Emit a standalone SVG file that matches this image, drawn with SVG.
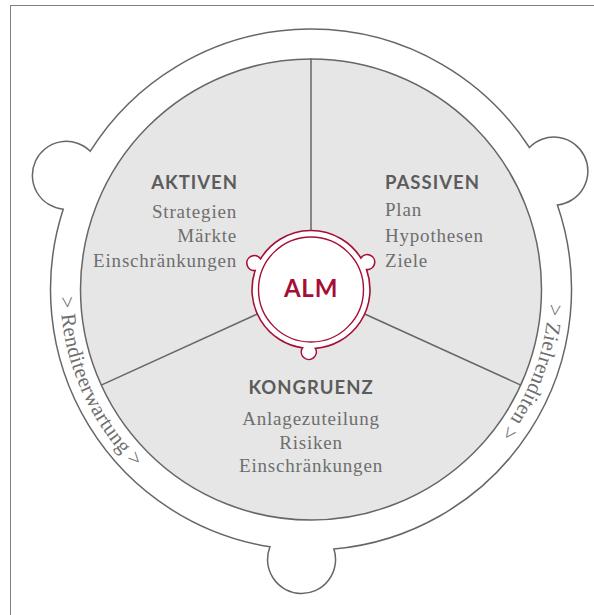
<svg xmlns="http://www.w3.org/2000/svg" width="594" height="615" viewBox="0 0 594 615">
<defs>
<style>
.frame{fill:none;stroke:#808080;stroke-width:1}
.ring{fill:#fff;stroke:#666;stroke-width:1.5}
.disc{fill:#e6e6e6;stroke:#666;stroke-width:1.5}
.spoke{stroke:#666;stroke-width:1.5;fill:none}
.hub{fill:#fff;stroke:#a50f36;stroke-width:1.6}
.hubin{fill:#fff;stroke:#a50f36;stroke-width:1.4}
.head{font-family:Lato,"Open Sans","Liberation Sans",sans-serif;font-weight:700;font-size:18.5px;fill:#5c5c5c;letter-spacing:1px}
.item{font-family:"Liberation Serif","Times New Roman",serif;font-size:19px;fill:#6e6e6e;letter-spacing:0.8px}
.alm{font-family:Lato,"Open Sans","Liberation Sans",sans-serif;font-weight:700;font-size:24px;fill:#a50f36;letter-spacing:0.8px}
.arc{font-family:"Liberation Serif","Times New Roman",serif;font-size:21px;fill:#6e6e6e;letter-spacing:0.3px}
</style>
<path id="leftArc" d="M 60.15,280.74 A 252 252 0 0 0 167.0,495.1"/>
<path id="rightArc" d="M 548.1,268.76 A 237.5 237.5 0 0 1 463.98,471.82"/>
</defs>
<rect class="frame" x="10.5" y="5.5" width="600" height="620"/>
<g id="ring">
<path class="ring" d="M 557.4,204.9 A 260.5 260.5 0 0 1 333.9,549.0 A 34 34 0 1 1 270.0,546.8 A 260.5 260.5 0 0 1 63.2,209.2 A 34 34 0 1 1 90.3,151.2 A 260.5 260.5 0 0 1 529.4,147.5 A 34 34 0 1 1 557.4,204.9 Z"/>
</g>
<g id="disc">
<circle class="disc" cx="311" cy="289.5" r="230.5"/>
</g>
<g id="connectors">
<line class="spoke" x1="311" y1="58.5" x2="311" y2="231"/>
<line class="spoke" x1="257.3" y1="314" x2="101.2" y2="385.1"/>
<line class="spoke" x1="364.7" y1="314" x2="520.8" y2="385.1"/>
</g>
<g id="aktiven">
<text class="head" x="238" y="188.5" text-anchor="end">AKTIVEN</text>
<text class="item" x="237" y="217.5" text-anchor="end">Strategien</text>
<text class="item" x="237" y="242" text-anchor="end">Märkte</text>
<text class="item" x="237" y="266.7" text-anchor="end">Einschränkungen</text>
</g>
<g id="passiven">
<text class="head" x="385" y="188.5">PASSIVEN</text>
<text class="item" x="385" y="215.5">Plan</text>
<text class="item" x="385" y="241.5">Hypothesen</text>
<text class="item" x="385" y="266.7">Ziele</text>
</g>
<g id="kongruenz">
<text class="head" x="311" y="394.3" text-anchor="middle">KONGRUENZ</text>
<text class="item" x="311" y="425" text-anchor="middle">Anlagezuteilung</text>
<text class="item" x="311" y="449" text-anchor="middle">Risiken</text>
<text class="item" x="311" y="472.3" text-anchor="middle">Einschränkungen</text>
</g>
<g id="alm">
<path class="hub" d="M 366.53,269.56 A 59 59 0 0 1 315.37,348.34 A 7.5 7.5 0 1 1 302.53,347.89 A 59 59 0 0 1 255.13,270.54 A 7.5 7.5 0 1 1 260.56,258.89 A 59 59 0 0 1 360.90,258.02 A 7.5 7.5 0 1 1 366.53,269.56 Z"/>
<circle class="hubin" cx="311" cy="289.5" r="52.5"/>
<text class="alm" x="311" y="297" text-anchor="middle">ALM</text>
</g>
<g id="labels">
<text class="arc"><textPath href="#leftArc" startOffset="16">&gt; Renditeerwartung &gt;</textPath></text>
<text class="arc"><textPath href="#rightArc" startOffset="35">&gt; Zielrenditen &gt;</textPath></text>
</g>
</svg>
